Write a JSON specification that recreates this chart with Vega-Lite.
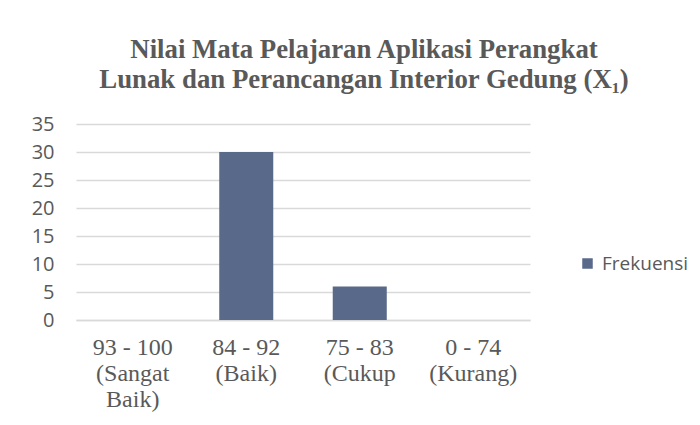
{
  "$schema": "https://vega.github.io/schema/vega-lite/v6.json",
  "width": 454,
  "height": 196,
  "autosize": {"type": "none"},
  "padding": {"left": 76, "top": 124, "right": 170, "bottom": 105},
  "background": "white",
  "title": {
    "text": ["Nilai Mata Pelajaran Aplikasi Perangkat", "Lunak dan Perancangan Interior Gedung (X₁)"],
    "font": "Liberation Serif",
    "fontSize": 26.8,
    "fontWeight": "bold",
    "color": "#595959",
    "anchor": "middle",
    "dx": 61,
    "lineHeight": 30,
    "offset": 20
  },
  "data": {
    "values": [
      {"kategori": "93 - 100 (Sangat Baik)", "frekuensi": 0},
      {"kategori": "84 - 92 (Baik)", "frekuensi": 30},
      {"kategori": "75 - 83 (Cukup", "frekuensi": 6},
      {"kategori": "0 - 74 (Kurang)", "frekuensi": 0}
    ]
  },
  "mark": {"type": "bar"},
  "encoding": {
    "x": {
      "field": "kategori",
      "type": "nominal",
      "sort": null,
      "scale": {"paddingInner": 0.524, "paddingOuter": 0.262},
      "axis": {
        "title": null,
        "labelAngle": 0,
        "labelFont": "Liberation Serif",
        "labelFontSize": 24,
        "labelColor": "#595959",
        "labelLineHeight": 26,
        "labelPadding": 15,
        "ticks": false,
        "domainColor": "#D9D9D9",
        "domainWidth": 1.5,
        "labelExpr": "datum.label == '93 - 100 (Sangat Baik)' ? ['93 - 100', '(Sangat', 'Baik)'] : split(replace(datum.label, ' (', '|('), '|')"
      }
    },
    "y": {
      "field": "frekuensi",
      "type": "quantitative",
      "scale": {"domain": [0, 35]},
      "axis": {
        "title": null,
        "values": [0, 5, 10, 15, 20, 25, 30, 35],
        "domain": false,
        "ticks": false,
        "gridColor": "#D9D9D9",
        "gridWidth": 1.5,
        "labelFont": "Open Sans",
        "labelFontSize": 20,
        "labelColor": "#595959",
        "labelPadding": 22
      }
    },
    "color": {
      "datum": "Frekuensi",
      "type": "nominal",
      "scale": {"range": ["#58698A"]},
      "legend": {
        "title": null,
        "orient": "none",
        "legendX": 502,
        "legendY": 130,
        "symbolType": "square",
        "symbolSize": 110,
        "symbolStrokeWidth": 0,
        "labelFont": "Open Sans",
        "labelFontSize": 19,
        "labelColor": "#595959",
        "labelOffset": 5
      }
    }
  },
  "config": {"view": {"stroke": null}}
}
